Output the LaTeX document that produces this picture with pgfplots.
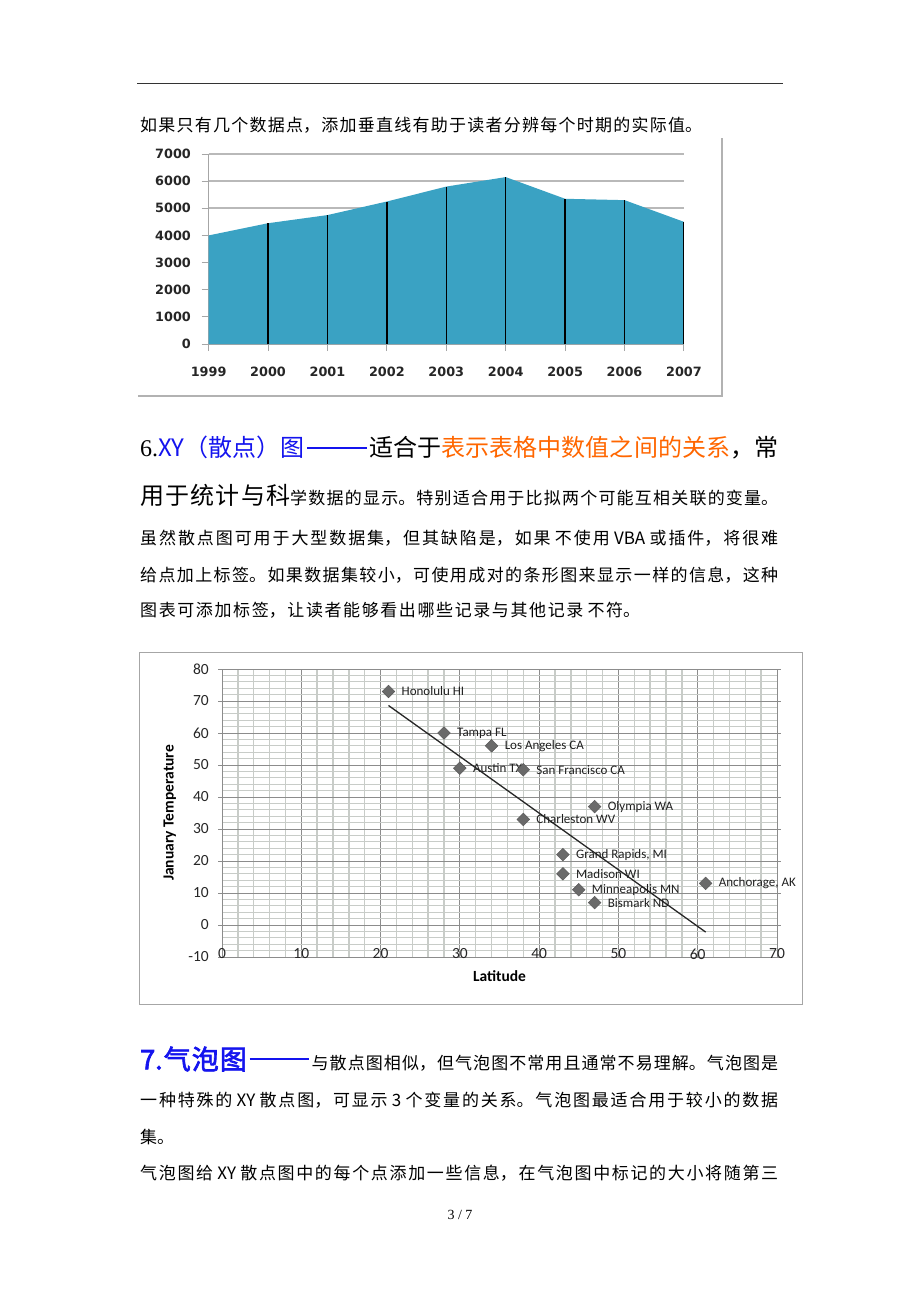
\documentclass[border=0pt]{standalone}
\usepackage{fontspec}
\usepackage{pgfplots}
\pgfplotsset{compat=1.18}
\setmainfont{Noto Sans CJK SC}
\newfontfamily\cjkb{Noto Sans CJK SC}[FakeBold=2.5]
\newfontfamily\tah{DejaVu Sans}
\newfontfamily\calib{Carlito}
\newfontfamily\tnr{Liberation Serif}
\XeTeXlinebreaklocale "zh"
\XeTeXlinebreakskip=0pt plus 8pt
\definecolor{areablue}{HTML}{3AA2C3}
\definecolor{hblue}{HTML}{1414EE}
\definecolor{horange}{HTML}{FF6600}
\definecolor{mgrid}{HTML}{8C8C8C}
\definecolor{ngrid}{HTML}{C8CCC8}
\definecolor{ptgray}{HTML}{6A6A6A}
% justified line: x, y (centre), width, text
\newcommand{\jl}[4]{\node[anchor=west,inner sep=0pt,text width=#3,align=justify] at (#1pt,-#2pt)
  {\noindent\tolerance=10000\hbadness=10000\parfillskip=0pt #4\par};}
\newcommand{\bodyf}{\fontsize{17}{20}\selectfont}
\newcommand{\bigf}{\fontsize{24}{28}\selectfont}
\newcommand{\dash}[1]{\hspace{0.1em}{\color{hblue}\rule[0.34em]{#1}{2pt}}\hspace{0.1em}}

\begin{document}
\begin{tikzpicture}
\path[use as bounding box] (0,0) rectangle (920pt,-1302pt);
\draw[black!80,line width=1pt] (137pt,-83pt) -- (783pt,-83pt);

\jl{140}{125}{562pt}{\bodyf 如果只有几个数据点，添加垂直线有助于读者分辨每个时期的实际值。}

% area chart
\draw[gray!60,line width=1.5pt] (722pt,-138pt) -- (722pt,-396pt) -- (138pt,-396pt);
\begin{axis}[at={(208.6pt,-344pt)},anchor=south west,scale only axis,
  width=475.4pt,height=190pt,
  xmin=1999,xmax=2007,ymin=0,ymax=7000,
  xtick={1999,...,2007},ytick={0,1000,...,7000},
  axis lines=left,axis line style={-,draw=gray!70,line width=1pt},
  ymajorgrids,grid style={gray!55,line width=1.6pt},
  tick style={gray!70,line width=1pt},tick align=outside,major tick length=7pt,
  /pgf/number format/1000 sep={},/pgf/number format/assume math mode=true,
  ticklabel style={font=\fontsize{12.8}{14}\tah\bfseries,text=black!85,inner sep=0pt},
  xticklabel style={anchor=north,yshift=-15.5pt},
  yticklabel style={anchor=east,xshift=-10.6pt}]
\addplot[fill=areablue,draw=none] coordinates {(1999,4000)(2000,4450)(2001,4750)(2002,5250)(2003,5800)(2004,6150)(2005,5350)(2006,5300)(2007,4500)} \closedcycle;
\addplot[ycomb,black,line width=1.4pt,mark=none] coordinates {(2000,4450)(2001,4750)(2002,5250)(2003,5800)(2004,6150)(2005,5350)(2006,5300)(2007,4500)};
\end{axis}

\jl{140}{448}{638pt}{\bigf{\tnr 6.}\textcolor{hblue}{XY（散点）图}\dash{2.5em}适合于\textcolor{horange}{表示表格中数值之间的关系}，常}
\jl{140}{495}{638pt}{{\bigf 用于统计与科}{\bodyf 学数据的显示。特别适合用于比拟两个可能互相关联的变量。}}
\jl{140}{538}{638pt}{\bodyf 虽然散点图可用于大型数据集，但其缺陷是，如果 不使用 VBA 或插件，将很难}
\jl{140}{575}{638pt}{\bodyf 给点加上标签。如果数据集较小，可使用成对的条形图来显示一样的信息，这种}
\jl{140}{610}{500pt}{\bodyf 图表可添加标签，让读者能够看出哪些记录与其他记录 不符。}

% scatter chart
\draw[gray!70,line width=0.8pt] (139pt,-652pt) rectangle (802pt,-1004pt);
\begin{axis}[at={(222pt,-957pt)},anchor=south west,scale only axis,
  width=555pt,height=288pt,
  xmin=0,xmax=70,ymin=-10,ymax=80,
  xtick={0,10,...,70},ytick={-10,0,...,80},
  minor x tick num=4,minor y tick num=4,
  grid=both,major grid style={mgrid,line width=0.9pt},minor grid style={ngrid,line width=1.3pt},
  axis line style={mgrid,line width=0.8pt},
  xtick style={draw=none},minor tick length=0pt,
  ytick style={mgrid,line width=0.8pt},major tick length=4pt,tick align=outside,
  /pgf/number format/assume math mode=true,
  ticklabel style={font=\fontsize{15.5}{17}\calib,text=black!85,inner sep=0pt},
  xticklabel style={anchor=center,yshift=7pt},
  yticklabel style={anchor=east,xshift=-9pt},
  xlabel={Latitude},ylabel={January Temperature},
  xlabel style={at={(axis description cs:0.5,-0.066)},anchor=center,font=\fontsize{15.5}{17}\calib\bfseries},
  ylabel style={at={(axis description cs:-0.094,0.5)},anchor=center,font=\fontsize{15.5}{17}\calib\bfseries}]
\addplot[black!85,line width=1.3pt] coordinates {(21,68.6)(61,-2.2)};
\addplot[only marks,mark=square*,mark size=4.5pt,
  mark options={rotate=45,fill=ptgray,draw=ptgray!80!black,line width=0.4pt},
  point meta=explicit symbolic,nodes near coords,
  every node near coord/.append style={anchor=west,xshift=12pt,inner sep=1pt,
    font=\fontsize{13}{14}\calib,text=black!88}]
coordinates {
(21,73) [Honolulu HI]
(28,60) [Tampa FL]
(34,56) [Los Angeles CA]
(30,49) [Austin TX]
(38,48.5) [San Francisco CA]
(47,37) [Olympia WA]
(38,33) [Charleston WV]
(43,22) [{Grand Rapids, MI}]
(43,16) [Madison WI]
(45,11) [Minneapolis MN]
(47,7) [Bismark ND]
(61,13) [{Anchorage, AK}]
};
\end{axis}

\jl{140}{1059}{638pt}{{\cjkb\fontsize{27}{30}\selectfont\color{hblue}7.气泡图\dash{2.2em}}{\bodyf 与散点图相似，但气泡图不常用且通常不易理解。气泡图是}}
\jl{140}{1100}{638pt}{\bodyf 一种特殊的 XY 散点图，可显示 3 个变量的关系。气泡图最适合用于较小的数据}
\node[anchor=west,inner sep=0pt,font=\bodyf] at (140pt,-1137pt) {集。};
\jl{140}{1173}{638pt}{\bodyf 气泡图给 XY 散点图中的每个点添加一些信息，在气泡图中标记的大小将随第三}
\node[font=\fontsize{14}{16}\tnr] at (460pt,-1215pt) {3 / 7};
\end{tikzpicture}
\end{document}
